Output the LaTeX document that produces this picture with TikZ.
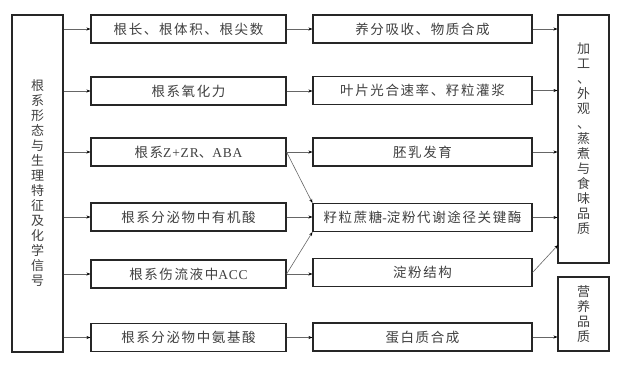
\documentclass[tikz,border=0pt]{standalone}
\usepackage{fontspec}
\setmainfont{Liberation Serif}
\newfontfamily\cjk{Noto Sans CJK SC}
\newfontfamily\cjkw[LetterSpace=12]{Noto Sans CJK SC}
\newfontfamily\latw[LetterSpace=6]{Liberation Serif}
\usetikzlibrary{arrows.meta}
\begin{document}
\begin{tikzpicture}[x=1pt,y=-1pt,
  box/.style={draw=black!85,line width=1.1pt,fill=white,inner sep=0pt,font=\cjk\fontsize{13}{15}\selectfont,text=black!75},
  wbox/.style={box,minimum height=28pt,font=\cjkw\fontsize{13.5}{15}\selectfont},
  arr/.style={draw=black!60,line width=0.6pt,-{Stealth[length=4pt,width=3pt,black]}}]
\useasboundingbox (0,0) rectangle (623,368);
% left
\node[box,minimum width=51pt,minimum height=337pt,align=center] (L) at (37.5,183.5)
 {根\\系\\形\\态\\与\\生\\理\\特\\征\\及\\化\\学\\信\\号};
% middle left
\node[wbox,minimum width=195pt] (a1) at (188.5,29) {根长、根体积、根尖数};
\node[wbox,minimum width=195pt] (a2) at (188.5,91) {根系氧化力};
\node[wbox,minimum width=195pt] (a3) at (188.5,152) {根系{\latw Z+ZR}、{\latw ABA}};
\node[wbox,minimum width=195pt] (a4) at (188.5,217) {根系分泌物中有机酸};
\node[wbox,minimum width=195pt] (a5) at (188.5,274) {根系伤流液中{\latw ACC}};
\node[wbox,minimum width=195pt] (a6) at (188.5,337.5) {根系分泌物中氨基酸};
% middle right
\node[wbox,minimum width=219pt] (b1) at (422.5,29) {养分吸收、物质合成};
\node[wbox,minimum width=219pt] (b2) at (422.5,90.5) {叶片光合速率、籽粒灌浆};
\node[wbox,minimum width=219pt] (b3) at (422.5,152) {胚乳发育};
\node[wbox,minimum width=219pt] (b4) at (422.5,217.5) {籽粒蔗糖{\latw -}淀粉代谢途径关键酶};
\node[wbox,minimum width=219pt] (b5) at (422.5,272.5) {淀粉结构};
\node[wbox,minimum width=219pt] (b6) at (422.5,337) {蛋白质合成};
% right
\node[box,minimum width=51pt,minimum height=248pt,align=center] (R1) at (583.5,139)
 {加\\工\\、\\外\\观\\、\\蒸\\煮\\与\\食\\味\\品\\质};
\node[box,minimum width=51pt,minimum height=74pt,align=center] (R2) at (583.5,314)
 {营\\养\\品\\质};
% arrows from left
\foreach \n in {a1,a2,a3,a4,a5,a6} \draw[arr] (L.east |- \n.west) -- (\n.west);
% middle arrows
\foreach \i in {1,...,6} \draw[arr] (a\i.east) -- (a\i.east -| b\i.west);
\draw[arr] (a3.east) -- (b4.north west);
\draw[arr] (a5.east) -- (b4.south west);
% right arrows
\foreach \i in {1,...,4} \draw[arr] (b\i.east) -- (b\i.east -| R1.west);
\coordinate (r5) at (558,245);
\draw[arr] (b5.east) -- (r5);
\draw[arr] (b6.east) -- (b6.east -| R2.west);
\end{tikzpicture}
\end{document}
